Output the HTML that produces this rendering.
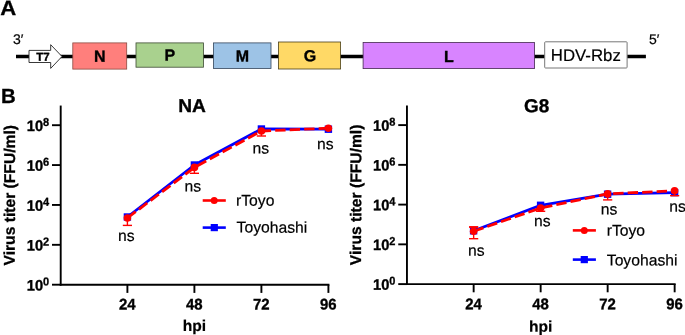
<!DOCTYPE html>
<html><head><meta charset="utf-8"><title>Figure</title>
<style>html,body{margin:0;padding:0;background:#fff;}body{width:685px;height:335px;overflow:hidden;}svg{display:block;will-change:transform;}text{font-family:"Liberation Sans", sans-serif;fill:#000;text-rendering:geometricPrecision;}</style>
</head><body>
<svg width="685" height="335" viewBox="0 0 685 335">
<rect x="0" y="0" width="685" height="335" fill="#ffffff"/>
<text transform="translate(0.20,15.00) rotate(0.05) scale(1.06,1)" font-size="20.9" font-weight="bold" stroke="#000" stroke-width="0.3">A</text>
<text transform="translate(12.90,43.90) rotate(0.05)" font-size="14" stroke="#000" stroke-width="0.2">3′</text>
<text transform="translate(649.00,43.90) rotate(0.05)" font-size="14" stroke="#000" stroke-width="0.2">5′</text>
<line x1="16" y1="56.5" x2="645.9" y2="56.5" stroke="#000" stroke-width="3.5"/>
<polygon points="29.0,50.4 50.7,50.4 50.7,44.7 62,56.5 50.7,68.4 50.7,62.5 29.0,62.5" fill="#fff" stroke="#222" stroke-width="0.9"/>
<text transform="translate(43.00,60.80) rotate(0.05)" font-size="11.5" font-weight="bold" stroke="#000" stroke-width="0.35" text-anchor="middle">T7</text>
<rect x="72.8" y="42.9" width="53.9" height="26.2" fill="#ff7f7c" stroke="#8a4a40" stroke-width="0.8"/>
<text transform="translate(99.80,61.70) rotate(0.05)" font-size="16" font-weight="bold" stroke="#000" stroke-width="0.35" text-anchor="middle">N</text>
<rect x="136.0" y="42.9" width="67.5" height="24.3" fill="#a9d18e" stroke="#3c4a33" stroke-width="0.8"/>
<text transform="translate(169.90,60.60) rotate(0.05)" font-size="16" font-weight="bold" stroke="#000" stroke-width="0.35" text-anchor="middle">P</text>
<rect x="213.4" y="42.9" width="57.6" height="25.6" fill="#9dc3e6" stroke="#34455a" stroke-width="0.8"/>
<text transform="translate(242.30,61.40) rotate(0.05)" font-size="16" font-weight="bold" stroke="#000" stroke-width="0.35" text-anchor="middle">M</text>
<rect x="278.4" y="42.0" width="62.2" height="27.0" fill="#ffd966" stroke="#4a3f1a" stroke-width="0.8"/>
<text transform="translate(310.00,61.30) rotate(0.05)" font-size="16" font-weight="bold" stroke="#000" stroke-width="0.35" text-anchor="middle">G</text>
<rect x="363.1" y="42.5" width="171.5" height="26.1" fill="#d884ff" stroke="#44294f" stroke-width="0.8"/>
<text transform="translate(448.90,61.90) rotate(0.05)" font-size="16" font-weight="bold" stroke="#000" stroke-width="0.35" text-anchor="middle">L</text>
<rect x="544.7" y="41.8" width="82.4" height="26.2" rx="0.8" fill="#fff" stroke="#777" stroke-width="1"/>
<text transform="translate(585.80,60.90) rotate(0.05)" font-size="16.8" stroke="#000" stroke-width="0.2" text-anchor="middle">HDV-Rbz</text>
<text transform="translate(0.90,103.00) rotate(0.05)" font-size="20.4" font-weight="bold" stroke="#000" stroke-width="0.3">B</text>
<line x1="60.70" y1="105.55" x2="60.70" y2="285.65" stroke="#000" stroke-width="1.9"/>
<line x1="59.75" y1="284.70" x2="329.40" y2="284.70" stroke="#000" stroke-width="1.9"/>
<line x1="52.00" y1="125.20" x2="60.70" y2="125.20" stroke="#000" stroke-width="1.9"/>
<text transform="translate(26.80,130.90) rotate(0.05) scale(0.97,1)" font-size="15.1" font-weight="bold" stroke="#000" stroke-width="0.35">10</text>
<text transform="translate(43.00,125.90) rotate(0.05) scale(0.95,1)" font-size="11.6" font-weight="bold" stroke="#000" stroke-width="0.3">8</text>
<line x1="52.00" y1="165.07" x2="60.70" y2="165.07" stroke="#000" stroke-width="1.9"/>
<text transform="translate(26.80,170.77) rotate(0.05) scale(0.97,1)" font-size="15.1" font-weight="bold" stroke="#000" stroke-width="0.35">10</text>
<text transform="translate(43.00,165.77) rotate(0.05) scale(0.95,1)" font-size="11.6" font-weight="bold" stroke="#000" stroke-width="0.3">6</text>
<line x1="52.00" y1="204.95" x2="60.70" y2="204.95" stroke="#000" stroke-width="1.9"/>
<text transform="translate(26.80,210.65) rotate(0.05) scale(0.97,1)" font-size="15.1" font-weight="bold" stroke="#000" stroke-width="0.35">10</text>
<text transform="translate(43.00,205.65) rotate(0.05) scale(0.95,1)" font-size="11.6" font-weight="bold" stroke="#000" stroke-width="0.3">4</text>
<line x1="52.00" y1="244.82" x2="60.70" y2="244.82" stroke="#000" stroke-width="1.9"/>
<text transform="translate(26.80,250.52) rotate(0.05) scale(0.97,1)" font-size="15.1" font-weight="bold" stroke="#000" stroke-width="0.35">10</text>
<text transform="translate(43.00,245.52) rotate(0.05) scale(0.95,1)" font-size="11.6" font-weight="bold" stroke="#000" stroke-width="0.3">2</text>
<line x1="52.00" y1="284.70" x2="60.70" y2="284.70" stroke="#000" stroke-width="1.9"/>
<text transform="translate(26.80,290.40) rotate(0.05) scale(0.97,1)" font-size="15.1" font-weight="bold" stroke="#000" stroke-width="0.35">10</text>
<text transform="translate(43.00,285.40) rotate(0.05) scale(0.95,1)" font-size="11.6" font-weight="bold" stroke="#000" stroke-width="0.3">0</text>
<line x1="127.40" y1="284.70" x2="127.40" y2="292.90" stroke="#000" stroke-width="1.9"/>
<text transform="translate(127.30,309.50) rotate(0.05) scale(0.97,1)" font-size="15.4" font-weight="bold" stroke="#000" stroke-width="0.35" text-anchor="middle">24</text>
<line x1="194.40" y1="284.70" x2="194.40" y2="292.90" stroke="#000" stroke-width="1.9"/>
<text transform="translate(194.30,309.50) rotate(0.05) scale(0.97,1)" font-size="15.4" font-weight="bold" stroke="#000" stroke-width="0.35" text-anchor="middle">48</text>
<line x1="261.40" y1="284.70" x2="261.40" y2="292.90" stroke="#000" stroke-width="1.9"/>
<text transform="translate(261.30,309.50) rotate(0.05) scale(0.97,1)" font-size="15.4" font-weight="bold" stroke="#000" stroke-width="0.35" text-anchor="middle">72</text>
<line x1="328.40" y1="284.70" x2="328.40" y2="292.90" stroke="#000" stroke-width="1.9"/>
<text transform="translate(328.30,309.50) rotate(0.05) scale(0.97,1)" font-size="15.4" font-weight="bold" stroke="#000" stroke-width="0.35" text-anchor="middle">96</text>
<text transform="translate(194.50,331.05) rotate(0.05)" font-size="15.6" font-weight="bold" stroke="#000" stroke-width="0.2" text-anchor="middle">hpi</text>
<text transform="translate(192.00,112.00) rotate(0.05) scale(1.03,1)" font-size="18.6" font-weight="bold" stroke="#000" stroke-width="0.35" text-anchor="middle">NA</text>
<text transform="translate(14.90,195.25) rotate(-89.95)" font-size="15.65" font-weight="bold" stroke="#000" stroke-width="0.3" text-anchor="middle">Virus titer (FFU/ml)</text>
<polyline points="127.4,217.0 194.4,165.0 261.4,129.0 328.4,129.2" fill="none" stroke="#0000ff" stroke-width="2.8" stroke-linejoin="round"/>
<rect x="123.7" y="213.3" width="7.4" height="7.4" fill="#0000ff"/>
<rect x="190.7" y="161.3" width="7.4" height="7.4" fill="#0000ff"/>
<rect x="257.7" y="125.3" width="7.4" height="7.4" fill="#0000ff"/>
<rect x="324.7" y="125.5" width="7.4" height="7.4" fill="#0000ff"/>
<line x1="127.40" y1="218.00" x2="127.40" y2="225.40" stroke="#ff0000" stroke-width="1.4"/>
<line x1="122.80" y1="225.40" x2="132.00" y2="225.40" stroke="#ff0000" stroke-width="1.4"/>
<line x1="194.40" y1="167.40" x2="194.40" y2="173.30" stroke="#ff0000" stroke-width="1.4"/>
<line x1="189.80" y1="173.30" x2="199.00" y2="173.30" stroke="#ff0000" stroke-width="1.4"/>
<line x1="261.40" y1="131.00" x2="261.40" y2="136.00" stroke="#ff0000" stroke-width="1.4"/>
<line x1="256.80" y1="136.00" x2="266.00" y2="136.00" stroke="#ff0000" stroke-width="1.4"/>
<polyline points="127.4,218.0 194.4,167.4 261.4,131.0 328.4,128.2" fill="none" stroke="#ff0000" stroke-width="2.8" stroke-dasharray="10.4 4.1" stroke-linejoin="round"/>
<circle cx="127.4" cy="218.0" r="3.8" fill="#ff0000"/>
<circle cx="194.4" cy="167.4" r="3.8" fill="#ff0000"/>
<circle cx="261.4" cy="131.0" r="3.8" fill="#ff0000"/>
<circle cx="328.4" cy="128.2" r="3.8" fill="#ff0000"/>
<text transform="translate(126.30,241.00) rotate(0.05)" font-size="15.7" stroke="#000" stroke-width="0.2" text-anchor="middle">ns</text>
<text transform="translate(192.90,191.50) rotate(0.05)" font-size="15.7" stroke="#000" stroke-width="0.2" text-anchor="middle">ns</text>
<text transform="translate(260.90,153.40) rotate(0.05)" font-size="15.7" stroke="#000" stroke-width="0.2" text-anchor="middle">ns</text>
<text transform="translate(325.40,149.30) rotate(0.05)" font-size="15.7" stroke="#000" stroke-width="0.2" text-anchor="middle">ns</text>
<line x1="202.70" y1="200.50" x2="225.80" y2="200.50" stroke="#ff0000" stroke-width="2.6"/>
<circle cx="214.2" cy="200.5" r="3.5" fill="#ff0000"/>
<line x1="202.70" y1="227.60" x2="225.80" y2="227.60" stroke="#0000ff" stroke-width="2.6"/>
<rect x="210.7" y="224.0" width="7.2" height="7.2" fill="#0000ff"/>
<text transform="translate(236.00,205.80) rotate(0.05)" font-size="15.7" stroke="#000" stroke-width="0.2">rToyo</text>
<text transform="translate(236.60,232.60) rotate(0.05)" font-size="15.7" stroke="#000" stroke-width="0.2">Toyohashi</text>
<line x1="406.95" y1="105.40" x2="406.95" y2="285.05" stroke="#000" stroke-width="1.9"/>
<line x1="406.00" y1="284.10" x2="675.65" y2="284.10" stroke="#000" stroke-width="1.9"/>
<line x1="398.25" y1="125.10" x2="406.95" y2="125.10" stroke="#000" stroke-width="1.9"/>
<text transform="translate(373.05,130.80) rotate(0.05) scale(0.97,1)" font-size="15.1" font-weight="bold" stroke="#000" stroke-width="0.35">10</text>
<text transform="translate(389.25,125.80) rotate(0.05) scale(0.95,1)" font-size="11.6" font-weight="bold" stroke="#000" stroke-width="0.3">8</text>
<line x1="398.25" y1="164.85" x2="406.95" y2="164.85" stroke="#000" stroke-width="1.9"/>
<text transform="translate(373.05,170.55) rotate(0.05) scale(0.97,1)" font-size="15.1" font-weight="bold" stroke="#000" stroke-width="0.35">10</text>
<text transform="translate(389.25,165.55) rotate(0.05) scale(0.95,1)" font-size="11.6" font-weight="bold" stroke="#000" stroke-width="0.3">6</text>
<line x1="398.25" y1="204.60" x2="406.95" y2="204.60" stroke="#000" stroke-width="1.9"/>
<text transform="translate(373.05,210.30) rotate(0.05) scale(0.97,1)" font-size="15.1" font-weight="bold" stroke="#000" stroke-width="0.35">10</text>
<text transform="translate(389.25,205.30) rotate(0.05) scale(0.95,1)" font-size="11.6" font-weight="bold" stroke="#000" stroke-width="0.3">4</text>
<line x1="398.25" y1="244.35" x2="406.95" y2="244.35" stroke="#000" stroke-width="1.9"/>
<text transform="translate(373.05,250.05) rotate(0.05) scale(0.97,1)" font-size="15.1" font-weight="bold" stroke="#000" stroke-width="0.35">10</text>
<text transform="translate(389.25,245.05) rotate(0.05) scale(0.95,1)" font-size="11.6" font-weight="bold" stroke="#000" stroke-width="0.3">2</text>
<line x1="398.25" y1="284.10" x2="406.95" y2="284.10" stroke="#000" stroke-width="1.9"/>
<text transform="translate(373.05,289.80) rotate(0.05) scale(0.97,1)" font-size="15.1" font-weight="bold" stroke="#000" stroke-width="0.35">10</text>
<text transform="translate(389.25,284.80) rotate(0.05) scale(0.95,1)" font-size="11.6" font-weight="bold" stroke="#000" stroke-width="0.3">0</text>
<line x1="473.65" y1="284.10" x2="473.65" y2="292.30" stroke="#000" stroke-width="1.9"/>
<text transform="translate(473.55,309.30) rotate(0.05) scale(0.97,1)" font-size="15.4" font-weight="bold" stroke="#000" stroke-width="0.35" text-anchor="middle">24</text>
<line x1="540.65" y1="284.10" x2="540.65" y2="292.30" stroke="#000" stroke-width="1.9"/>
<text transform="translate(540.55,309.30) rotate(0.05) scale(0.97,1)" font-size="15.4" font-weight="bold" stroke="#000" stroke-width="0.35" text-anchor="middle">48</text>
<line x1="607.65" y1="284.10" x2="607.65" y2="292.30" stroke="#000" stroke-width="1.9"/>
<text transform="translate(607.55,309.30) rotate(0.05) scale(0.97,1)" font-size="15.4" font-weight="bold" stroke="#000" stroke-width="0.35" text-anchor="middle">72</text>
<line x1="674.65" y1="284.10" x2="674.65" y2="292.30" stroke="#000" stroke-width="1.9"/>
<text transform="translate(674.55,309.30) rotate(0.05) scale(0.97,1)" font-size="15.4" font-weight="bold" stroke="#000" stroke-width="0.35" text-anchor="middle">96</text>
<text transform="translate(540.75,331.65) rotate(0.05)" font-size="15.6" font-weight="bold" stroke="#000" stroke-width="0.2" text-anchor="middle">hpi</text>
<text transform="translate(536.70,112.20) rotate(0.05)" font-size="18.9" font-weight="bold" stroke="#000" stroke-width="0.35" text-anchor="middle">G8</text>
<text transform="translate(361.15,194.90) rotate(-89.95)" font-size="15.65" font-weight="bold" stroke="#000" stroke-width="0.3" text-anchor="middle">Virus titer (FFU/ml)</text>
<polyline points="473.6,230.8 540.6,205.3 607.6,194.2 674.6,192.6" fill="none" stroke="#0000ff" stroke-width="2.8" stroke-linejoin="round"/>
<rect x="469.9" y="227.1" width="7.4" height="7.4" fill="#0000ff"/>
<rect x="536.9" y="201.6" width="7.4" height="7.4" fill="#0000ff"/>
<rect x="603.9" y="190.5" width="7.4" height="7.4" fill="#0000ff"/>
<rect x="670.9" y="188.9" width="7.4" height="7.4" fill="#0000ff"/>
<line x1="473.65" y1="231.30" x2="473.65" y2="226.80" stroke="#ff0000" stroke-width="1.4"/>
<line x1="469.05" y1="227.00" x2="478.25" y2="227.00" stroke="#ff0000" stroke-width="1.9"/>
<line x1="473.65" y1="231.30" x2="473.65" y2="238.70" stroke="#ff0000" stroke-width="1.4"/>
<line x1="469.05" y1="238.70" x2="478.25" y2="238.70" stroke="#ff0000" stroke-width="1.4"/>
<line x1="540.65" y1="208.00" x2="540.65" y2="211.30" stroke="#ff0000" stroke-width="1.4"/>
<line x1="536.05" y1="211.30" x2="545.25" y2="211.30" stroke="#ff0000" stroke-width="1.4"/>
<line x1="607.65" y1="193.90" x2="607.65" y2="199.90" stroke="#ff0000" stroke-width="1.4"/>
<line x1="603.05" y1="199.90" x2="612.25" y2="199.90" stroke="#ff0000" stroke-width="1.4"/>
<line x1="674.65" y1="190.80" x2="674.65" y2="195.70" stroke="#ff0000" stroke-width="1.4"/>
<line x1="670.05" y1="195.70" x2="679.25" y2="195.70" stroke="#ff0000" stroke-width="1.4"/>
<polyline points="473.6,231.3 540.6,208.0 607.6,193.9 674.6,190.8" fill="none" stroke="#ff0000" stroke-width="2.8" stroke-dasharray="10.4 4.1" stroke-linejoin="round"/>
<circle cx="473.6" cy="231.3" r="3.8" fill="#ff0000"/>
<circle cx="540.6" cy="208.0" r="3.8" fill="#ff0000"/>
<circle cx="607.6" cy="193.9" r="3.8" fill="#ff0000"/>
<circle cx="674.6" cy="190.8" r="3.8" fill="#ff0000"/>
<text transform="translate(476.30,255.80) rotate(0.05)" font-size="15.7" stroke="#000" stroke-width="0.2" text-anchor="middle">ns</text>
<text transform="translate(542.40,226.30) rotate(0.05)" font-size="15.7" stroke="#000" stroke-width="0.2" text-anchor="middle">ns</text>
<text transform="translate(609.10,214.50) rotate(0.05)" font-size="15.7" stroke="#000" stroke-width="0.2" text-anchor="middle">ns</text>
<text transform="translate(677.60,211.70) rotate(0.05)" font-size="15.7" stroke="#000" stroke-width="0.2" text-anchor="middle">ns</text>
<line x1="572.80" y1="230.40" x2="595.90" y2="230.40" stroke="#ff0000" stroke-width="2.6"/>
<circle cx="584.3" cy="230.4" r="3.5" fill="#ff0000"/>
<line x1="572.80" y1="259.60" x2="595.90" y2="259.60" stroke="#0000ff" stroke-width="2.6"/>
<rect x="580.7" y="256.0" width="7.2" height="7.2" fill="#0000ff"/>
<text transform="translate(606.70,235.80) rotate(0.05)" font-size="15.7" stroke="#000" stroke-width="0.2">rToyo</text>
<text transform="translate(606.80,265.40) rotate(0.05)" font-size="15.7" stroke="#000" stroke-width="0.2">Toyohashi</text>
</svg>
</body></html>
